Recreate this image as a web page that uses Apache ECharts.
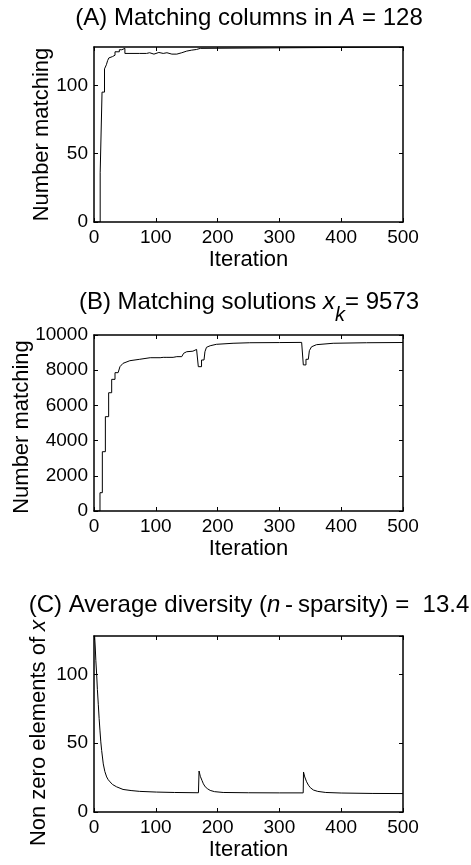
<!DOCTYPE html>
<html>
<head>
<meta charset="utf-8">
<script src="https://cdn.jsdelivr.net/npm/echarts@6/dist/echarts.min.js"></script>
<style>
  html, body { margin: 0; padding: 0; background: #fff; }
  #chart { width: 471px; height: 865px; }
</style>
</head>
<body>
<div id="chart"></div>
<script>
const FONT = '"Liberation Sans", Arial, Helvetica, sans-serif';

// Axis ticks
const iterTicks = [0, 100, 200, 300, 400, 500];
const columnsTicks = [0, 50, 100];
const columnsMax = 128;
const solutionsTicks = [0, 2000, 4000, 6000, 8000, 10000];
const diversityTicks = [0, 50, 100];
const diversityMax = 128;

// (A) matching columns per iteration (held until the next listed iteration)
const columnsIter = [1, 10, 13, 17, 20, 22, 24, 27, 30, 34, 41, 45, 50, 74, 85, 90, 97, 105, 112, 118, 126, 134, 142, 150, 158, 166, 172, 500];
const columnsMatched = [0, 36, 95, 112, 115, 118, 120, 121, 122, 124.5, 126, 127, 123.3, 123.3, 123.8, 122.8, 124, 123.3, 123.8, 122.8, 122.8, 123.8, 125, 125.7, 126.2, 127, 128, 128];

// (B) matching solutions per iteration
const solutionsIter = [1, 9.7, 9.7, 13.5, 13.5, 18.4, 18.4, 23.7, 23.7, 28.6, 28.6, 34, 34, 39, 42, 47, 58, 74, 91, 107, 109, 112, 118, 120, 123, 128, 131, 134, 142, 145, 150, 160, 166, 168.8, 168.8, 174, 174, 178, 179.5, 182, 188, 198, 225, 252, 300, 336, 338.7, 338.7, 343, 343, 346.8, 348.5, 352, 360, 387, 441, 500];
const solutionsMatched = [0, 0, 1040, 1040, 3370, 3370, 5360, 5360, 6720, 6720, 7480, 7480, 7860, 7860, 8200, 8390, 8540, 8620, 8710, 8710, 8810, 8730, 8730, 8830, 8730, 8730, 8840, 8770, 8770, 8960, 9050, 9080, 9180, 9180, 8200, 8200, 8580, 8580, 9050, 9300, 9390, 9470, 9530, 9560, 9570, 9580, 9580, 8300, 8300, 8620, 8620, 9110, 9330, 9450, 9530, 9560, 9573];

// (C) non-zero elements of x per iteration
const diversityIter = [1, 2, 3, 4.3, 5.5, 7, 8.3, 9.7, 11, 12.4, 15, 17.5, 20.5, 23, 26, 30, 36.6, 47, 60, 74, 101, 130, 169, 170, 172, 174.7, 177, 180, 184, 188, 195, 209, 250, 300, 338.5, 339, 341, 344, 347, 350, 355, 362, 375, 400, 450, 500];
const nonZero = [128, 120, 110, 100, 89, 78, 68, 59, 51, 44.7, 35, 29.5, 25.5, 23.5, 21.9, 20, 18.3, 16.4, 15.6, 15, 14.5, 14.2, 14, 29.8, 26, 23, 20.5, 18.3, 16.8, 15.7, 14.8, 14.2, 14, 13.9, 13.9, 29.1, 25.5, 22, 19.5, 17.7, 16, 15, 14.2, 13.8, 13.5, 13.4];

const zip = (xs, ys) => xs.map((x, i) => [x, ys[i]]);

const panels = [
  { top: 47,  height: 175, ticks: columnsTicks,   max: columnsMax,   yName: 'Number matching', yGap: 41, yShift: 0,
    data: zip(columnsIter, columnsMatched), step: 'end' },
  { top: 335, height: 176, ticks: solutionsTicks, max: solutionsTicks[solutionsTicks.length - 1], yName: 'Number matching', yGap: 61, yShift: 8,
    data: zip(solutionsIter, solutionsMatched), step: false },
  { top: 636, height: 176, ticks: diversityTicks, max: diversityMax, yName: 'Non zero elements of {i|x}', yGap: 44, yShift: 18,
    data: zip(diversityIter, nonZero), step: false }
];

const lineColor = '#000';
const tickStyle = { show: true, inside: true, length: 4, lineStyle: { color: lineColor, width: 1 } };
const axisLineStyle = { show: true, onZero: false, lineStyle: { color: lineColor, width: 1.5 } };
const labelStyle = { color: '#000', fontSize: 19, fontFamily: FONT, formatter: v => String(v) };
const nameFont = { color: '#000', fontSize: 22, fontFamily: FONT };
const nameRich = { i: { fontStyle: 'italic', fontSize: 22, fontFamily: FONT, color: '#000' } };

const grids = [], xAxes = [], yAxes = [], series = [];
panels.forEach((p, g) => {
  grids.push({ left: 94, width: 309, top: p.top, height: p.height, outerBoundsMode: 'none', containLabel: false });
  const xBase = {
    type: 'value', gridIndex: g, min: iterTicks[0], max: iterTicks[iterTicks.length - 1],
    interval: iterTicks[1] - iterTicks[0], axisLine: axisLineStyle, axisTick: tickStyle,
    splitLine: { show: false }
  };
  xAxes.push(Object.assign({}, xBase, {
    position: 'bottom', axisLabel: Object.assign({ margin: 6 }, labelStyle),
    name: 'Iteration', nameLocation: 'middle', nameGap: 27,
    nameTextStyle: Object.assign({ rich: nameRich }, nameFont), nameMoveOverlap: false
  }));
  xAxes.push(Object.assign({}, xBase, { position: 'top', axisLabel: { show: false } }));
  const yBase = {
    type: 'value', gridIndex: g, min: p.ticks[0], max: p.max, interval: p.ticks[1] - p.ticks[0],
    axisLine: axisLineStyle, axisTick: tickStyle, splitLine: { show: false }
  };
  yAxes.push(Object.assign({}, yBase, {
    position: 'left',
    axisLabel: Object.assign({ margin: 6, showMaxLabel: p.max === p.ticks[p.ticks.length - 1] }, labelStyle),
    name: p.yName, nameLocation: 'middle', nameGap: p.yGap, nameMoveOverlap: false,
    nameTextStyle: Object.assign({ rich: nameRich, padding: [0, p.yShift, 0, 0] }, nameFont)
  }));
  yAxes.push(Object.assign({}, yBase, { position: 'right', axisLabel: { show: false } }));
  series.push({
    type: 'line', xAxisIndex: 2 * g, yAxisIndex: 2 * g, data: p.data, step: p.step,
    showSymbol: false, symbol: 'none', silent: true,
    lineStyle: { color: lineColor, width: 1 }
  });
});

const TITLE_SIZE = 24;
const titleFont = { fontSize: TITLE_SIZE, fontFamily: FONT, fill: '#000', align: 'center', verticalAlign: 'middle' };
const italic = { fontStyle: 'italic', fontSize: TITLE_SIZE, fontFamily: FONT };
const graphics = [
  { type: 'text', x: 249, y: 18, style: Object.assign({
      text: '(A) Matching columns in {i|A} = 128',
      rich: { i: italic } }, titleFont) },
  { type: 'text', x: 249, y: 302, style: Object.assign({
      text: '(B) Matching solutions {i|x}{k|k}= 9573',
      rich: {
        i: italic,
        k: { fontStyle: 'italic', fontSize: 20, fontFamily: FONT, padding: [27, 0, 0, 0] }
      } }, titleFont) },
  { type: 'text', x: 249, y: 605, style: Object.assign({
      text: '(C) Average diversity ({i|n}\u2009-\u2009sparsity) =  13.4',
      rich: { i: italic } }, titleFont) }
];

const chart = echarts.init(document.getElementById('chart'), null, { renderer: 'canvas' });
chart.setOption({
  backgroundColor: '#fff',
  animation: false,
  grid: grids,
  xAxis: xAxes,
  yAxis: yAxes,
  series: series,
  graphic: graphics
});
</script>
</body>
</html>
